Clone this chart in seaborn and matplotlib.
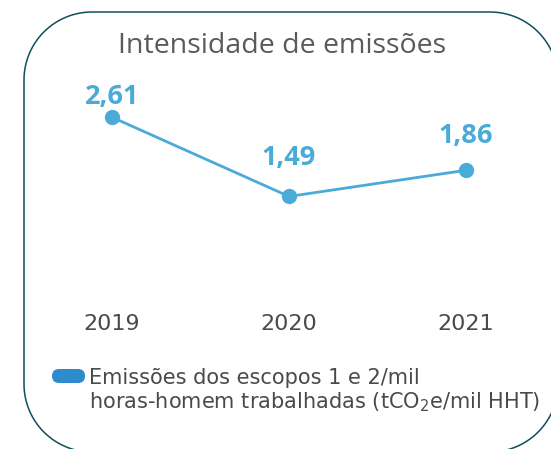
import matplotlib
matplotlib.use("Agg")
import matplotlib.pyplot as plt
from matplotlib.patches import FancyBboxPatch, Polygon
import numpy as np
import seaborn as sns
import pandas as pd

# ── data ──────────────────────────────────────────────────────────
years = ["2019", "2020", "2021"]
intensity = [2.61, 1.49, 1.86]
value_labels = ["2,61", "1,49", "1,86"]
title = "Intensidade de emissões"
legend_lines = ["Emissões dos escopos 1 e 2/mil",
                "horas-homem trabalhadas (tCO$_2$e/mil HHT)"]

# ── style ─────────────────────────────────────────────────────────
LINE = "#4aabd9"
PILL = "#2e8bcb"
BORDER = "#0d4f5c"
TITLE_C = "#5a5a5a"
TEXT_C = "#4a4a4a"
WIDE = ["DejaVu Sans"]
label_offsets = [14.4, 27.4, 24.5]   # points above each marker

sns.set_theme(style="white")
plt.rcParams["font.family"] = ["Open Sans", "DejaVu Sans"]
plt.rcParams["mathtext.fontset"] = "dejavusans"
plt.rcParams["mathtext.default"] = "regular"

W, H = 551, 449
fig = plt.figure(figsize=(W / 100, H / 100), dpi=100, facecolor="white")


def rounded_frame(left, top, right, bottom, r):
    """Circular-corner outline, pixel coords from the top-left, -> inches."""
    pts = []
    corners = [(right - r, top + r, 90, 0), (right - r, bottom - r, 0, -90),
               (left + r, bottom - r, -90, -180), (left + r, top + r, 180, 90)]
    for cx, cy, a0, a1 in corners:
        a = np.radians(np.linspace(a0, a1, 40))
        pts += [(cx + r * np.cos(t), cy - r * np.sin(t)) for t in a]
    return [(x / 100, (H - y) / 100) for x, y in pts]


frame = Polygon(rounded_frame(24, 12, 558, 452, 68), closed=True,
                fc="none", ec=BORDER, lw=1.1,
                transform=fig.dpi_scale_trans)
fig.add_artist(frame)

# background layer in pixel coordinates (title, legend)
bg = fig.add_axes([0, 0, 1, 1], zorder=0)
bg.set_xlim(0, W)
bg.set_ylim(H, 0)
bg.set_autoscale_on(False)
bg.axis("off")

bg.text(282, 46, title, ha="center", va="center",
        fontsize=20.5, color=TITLE_C)

bg.add_patch(FancyBboxPatch((52, 369), 33, 14,
                            boxstyle="round,pad=0,rounding_size=7",
                            fc=PILL, ec="none"))
bg.text(89, 384, legend_lines[0], ha="left", va="baseline",
        fontsize=15, color=TEXT_C, family=WIDE)
bg.text(89, 408, legend_lines[1], ha="left", va="baseline",
        fontsize=15, color=TEXT_C, family=WIDE)

# ── line chart ────────────────────────────────────────────────────
df = pd.DataFrame({"year": years, "value": intensity})

ax = fig.add_axes([40 / W, (H - 300) / H, 500 / W, 220 / H], zorder=1)
ax.patch.set_alpha(0)
sns.lineplot(data=df, x="year", y="value", ax=ax, color=LINE,
             linewidth=2, marker="o", markersize=11,
             markeredgewidth=0, legend=False)

ax.set_xlim(-0.407, 2.418)
ax.set_ylim(0.025, 3.137)
ax.set_yticks([])
ax.set_xlabel("")
ax.set_ylabel("")
ax.tick_params(axis="x", length=0, pad=10, labelsize=16, labelcolor=TEXT_C)
for t in ax.get_xticklabels():
    t.set_family(WIDE)
for s in ax.spines.values():
    s.set_visible(False)

for i, (v, lbl) in enumerate(zip(intensity, value_labels)):
    ax.annotate(lbl, (i, v), xytext=(0, label_offsets[i]),
                textcoords="offset points", ha="center", va="center",
                fontsize=19.5, fontweight="bold", color=LINE)

fig.savefig("out.png", dpi=100, facecolor="white")
